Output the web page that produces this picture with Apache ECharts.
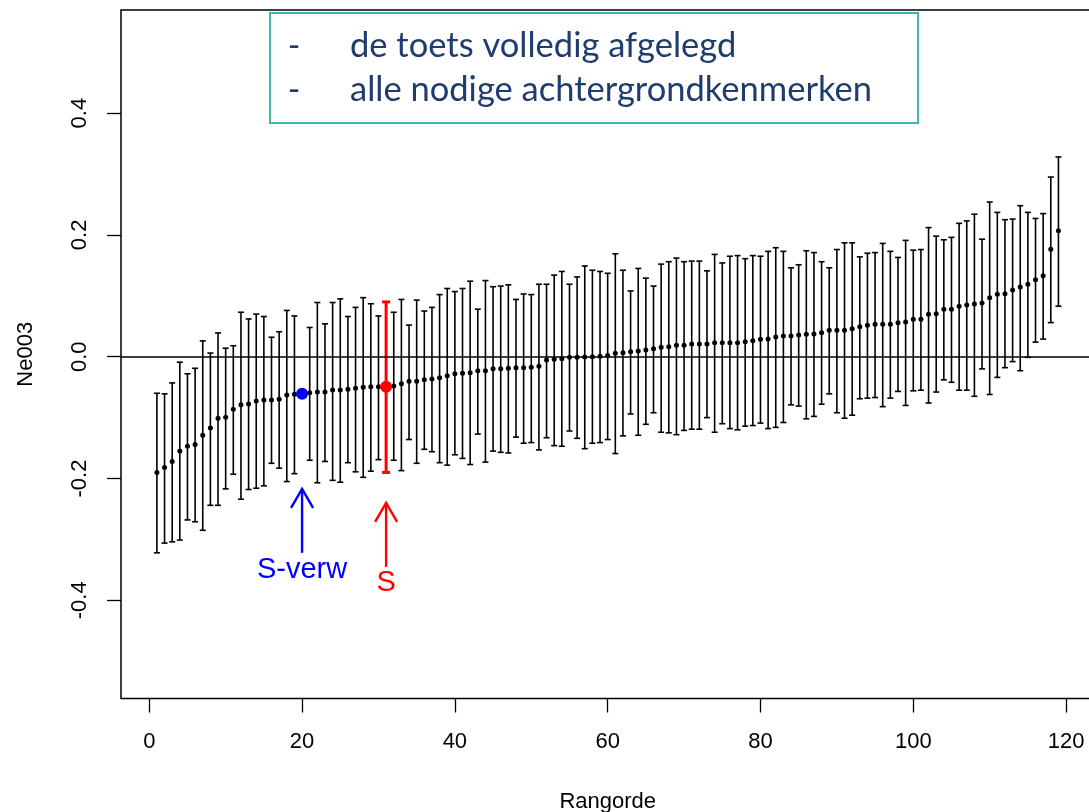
<!DOCTYPE html>
<html>
<head>
<meta charset="utf-8">
<script src="https://cdn.jsdelivr.net/npm/echarts@6/dist/echarts.min.js"></script>
<style>
html, body { margin: 0; padding: 0; background: #fff; }
#chart { width: 1089px; height: 812px; }
</style>
</head>
<body>
<div id="chart"></div>
<script>
// estimates per rank (1..119)
const mid = [
  -0.190, -0.182, -0.172, -0.155, -0.147, -0.144, -0.129, -0.117, -0.101, -0.0995,
  -0.0864, -0.0788, -0.0777, -0.0727, -0.0711, -0.0711, -0.070, -0.063, -0.0618, -0.0607,
  -0.0591, -0.058, -0.058, -0.0547, -0.0547, -0.0536, -0.0519, -0.0503, -0.0492, -0.0492,
  -0.0492, -0.0481, -0.0443, -0.0404, -0.0404, -0.0377, -0.0366, -0.0344, -0.0312, -0.028,
  -0.0273, -0.0262, -0.0229, -0.0229, -0.0197, -0.0197, -0.0191, -0.0180, -0.0180, -0.0175,
  -0.0158, -0.0054, -0.0043, -0.0032, -0.0010, -0.0010, -0.0005, 0.0000, 0.0006, 0.0022,
  0.0055, 0.0066, 0.0083, 0.0094, 0.0110, 0.0132, 0.0154, 0.0165, 0.0187, 0.0187,
  0.0209, 0.0209, 0.0209, 0.0230, 0.0230, 0.0230, 0.0230, 0.0247, 0.0263, 0.0285,
  0.0291, 0.0323, 0.0340, 0.0340, 0.0356, 0.0367, 0.0373, 0.0395, 0.0433, 0.0433,
  0.0433, 0.0460, 0.0493, 0.0515, 0.0532, 0.0532, 0.0532, 0.0559, 0.0570, 0.0614,
  0.0614, 0.0696, 0.0707, 0.0778, 0.0778, 0.0827, 0.0849, 0.0865, 0.0882, 0.0969,
  0.1024, 0.1035, 0.1095, 0.1144, 0.1188, 0.1265, 0.1330, 0.1763, 0.2069
]
const hi = [
  -0.060, -0.061, -0.043, -0.009, -0.028, -0.019, 0.026, 0.006, 0.039, 0.014,
  0.018, 0.073, 0.062, 0.070, 0.066, 0.032, 0.041, 0.076, 0.067, null,
  0.048, 0.089, 0.054, 0.089, 0.095, 0.066, 0.081, 0.097, 0.087, 0.067,
  0.090, 0.073, 0.094, 0.052, 0.093, 0.075, 0.081, 0.102, 0.112, 0.107,
  0.112, 0.124, 0.078, 0.125, 0.115, 0.116, 0.118, 0.094, 0.103, 0.102,
  0.119, 0.119, 0.134, 0.140, 0.119, 0.131, 0.149, 0.142, 0.140, 0.137,
  0.169, 0.142, 0.108, 0.145, 0.129, 0.116, 0.152, 0.156, 0.162, 0.156,
  0.157, 0.157, 0.141, 0.168, 0.154, 0.165, 0.166, 0.161, 0.166, 0.165,
  0.173, 0.179, 0.173, 0.146, 0.151, 0.174, 0.171, 0.156, 0.146, 0.176,
  0.187, 0.187, 0.164, 0.170, 0.171, 0.186, 0.173, 0.163, 0.191, 0.175,
  0.176, 0.212, 0.198, 0.192, 0.196, 0.219, 0.223, 0.234, 0.193, 0.254,
  0.237, 0.225, 0.226, 0.248, 0.237, 0.227, 0.235, 0.295, 0.328
]
const lo = [
  -0.322, -0.306, -0.304, -0.301, -0.268, -0.271, -0.285, -0.244, -0.244, -0.217,
  -0.193, -0.234, -0.218, -0.216, -0.212, -0.175, -0.183, -0.205, -0.192, null,
  -0.170, -0.207, -0.172, -0.203, -0.206, -0.174, -0.189, -0.198, -0.188, -0.169,
  -0.190, -0.170, -0.187, -0.136, -0.175, -0.152, -0.156, -0.174, -0.178, -0.161,
  -0.167, -0.177, -0.127, -0.173, -0.155, -0.157, -0.158, -0.132, -0.142, -0.141,
  -0.153, -0.133, -0.146, -0.147, -0.122, -0.134, -0.151, -0.142, -0.141, -0.136,
  -0.159, -0.130, -0.094, -0.129, -0.111, -0.092, -0.124, -0.125, -0.128, -0.121,
  -0.119, -0.119, -0.100, -0.124, -0.110, -0.118, -0.120, -0.114, -0.113, -0.109,
  -0.118, -0.116, -0.108, -0.079, -0.081, -0.102, -0.098, -0.078, -0.061, -0.092,
  -0.101, -0.096, -0.069, -0.068, -0.067, -0.082, -0.068, -0.057, -0.080, -0.056,
  -0.055, -0.076, -0.058, -0.038, -0.042, -0.055, -0.055, -0.065, -0.020, -0.062,
  -0.034, -0.018, -0.008, -0.023, -0.001, 0.024, 0.029, 0.056, 0.083
]
const xTicks = [0, 20, 40, 60, 80, 100, 120]
const yTicks = [-0.4, -0.2, 0, 0.2, 0.4]
const boxLines = ['de toets volledig afgelegd', 'alle nodige achtergrondkenmerken']

const S_RANK = 31      // school, red
const SVERW_RANK = 20  // expected score, blue

// arrow annotations: [rank, from, to, labelY]
const arrowRows = [[20, -0.322, -0.217, -0.350], [31, -0.345, -0.240, -0.371]]
const arrowLabels = ['S-verw', 'S']
const arrowColors = ['#0000ff', '#ff0000']

const FONT = '"Liberation Sans", Arial, sans-serif'

const bars = []
const dots = []
mid.forEach((m, i) => {
  const rank = i + 1
  if (lo[i] != null) bars.push([rank, lo[i], hi[i]])
  if (rank !== S_RANK && rank !== SVERW_RANK) dots.push([rank, m])
})

function renderBar(params, api) {
  const x = api.value(0)
  const top = api.coord([x, api.value(2)])
  const bot = api.coord([x, api.value(1)])
  const red = x === S_RANK
  const half = red ? 4 : 3
  const style = { stroke: red ? '#ff0000' : '#000', lineWidth: red ? 3 : 1.6 }
  return {
    type: 'group',
    children: [
      { type: 'line', shape: { x1: top[0], y1: top[1], x2: bot[0], y2: bot[1] }, style },
      { type: 'line', shape: { x1: top[0] - half, y1: top[1], x2: top[0] + half, y2: top[1] }, style },
      { type: 'line', shape: { x1: bot[0] - half, y1: bot[1], x2: bot[0] + half, y2: bot[1] }, style }
    ]
  }
}

function renderArrow(params, api) {
  const i = params.dataIndex
  const x = api.value(0)
  const a = api.coord([x, api.value(1)])
  const b = api.coord([x, api.value(2)])
  const t = api.coord([x, api.value(3)])
  const style = { stroke: arrowColors[i], lineWidth: 2.4, fill: null }
  return {
    type: 'group',
    children: [
      { type: 'line', shape: { x1: a[0], y1: a[1], x2: b[0], y2: b[1] }, style },
      { type: 'polyline', shape: { points: [[b[0] - 11, b[1] + 19], [b[0], b[1]], [b[0] + 11, b[1] + 19]] }, style },
      {
        type: 'text', x: t[0], y: t[1],
        style: { text: arrowLabels[i], fill: arrowColors[i], font: '29px ' + FONT, align: 'center', verticalAlign: 'middle' }
      }
    ]
  }
}

const chart = echarts.init(document.getElementById('chart'))
chart.setOption({
  animation: false,
  grid: {
    left: 121, top: 10, width: 973.5, height: 688.5, outerBoundsMode: 'none',
    show: true, borderColor: '#000', borderWidth: 1.5
  },
  xAxis: {
    type: 'value', min: -3.70, max: 123.72,
    name: 'Rangorde', nameLocation: 'middle', nameGap: 92,
    nameTextStyle: { fontFamily: FONT, fontSize: 22, color: '#000' },
    axisLine: { show: false, onZero: false },
    axisTick: { show: true, inside: false, length: 14, customValues: xTicks, lineStyle: { color: '#000', width: 1.3 } },
    axisLabel: { customValues: xTicks, margin: 32, fontFamily: FONT, fontSize: 22, color: '#000' },
    splitLine: { show: false }
  },
  yAxis: {
    type: 'value', min: -0.5612, max: 0.5693,
    name: 'Ne003', nameLocation: 'middle', nameGap: 84, nameRotate: 90,
    nameTextStyle: { fontFamily: FONT, fontSize: 22, color: '#000' },
    axisLine: { show: false, onZero: false },
    axisTick: { show: true, inside: false, length: 14, customValues: yTicks, lineStyle: { color: '#000', width: 1.3 } },
    axisLabel: {
      customValues: yTicks, rotate: 90, margin: 30, fontFamily: FONT, fontSize: 22, color: '#000',
      formatter: v => v.toFixed(1)
    },
    splitLine: { show: false }
  },
  series: [
    {
      type: 'custom', data: bars, renderItem: renderBar, encode: { x: 0, y: [1, 2] }, silent: true, z: 2
    },
    {
      type: 'scatter', data: dots, symbolSize: 5, itemStyle: { color: '#000', opacity: 1 }, silent: true, z: 3,
      markLine: {
        silent: true, symbol: ['none', 'none'], label: { show: false },
        lineStyle: { color: '#000', width: 1.5, type: 'solid' },
        data: [{ yAxis: 0 }]
      }
    },
    {
      type: 'scatter', symbolSize: 12, silent: true, z: 4,
      data: [
        { value: [SVERW_RANK, mid[SVERW_RANK - 1]], itemStyle: { color: '#0000ff', opacity: 1 } },
        { value: [S_RANK, mid[S_RANK - 1]], itemStyle: { color: '#ff0000', opacity: 1 } }
      ]
    },
    {
      type: 'custom', data: arrowRows, renderItem: renderArrow, encode: { x: 0, y: 1 }, silent: true, z: 5
    }
  ],
  graphic: [{
    type: 'group', left: 269, top: 12, z: 100,
    children: [
      { type: 'rect', shape: { x: 0, y: 0, width: 648, height: 110 }, style: { fill: '#fff', stroke: '#40b5ad', lineWidth: 2 } },
      ...boxLines.flatMap((line, i) => [
        { type: 'text', x: 24, y: 33 + i * 44, style: { text: '-', fill: '#1f3c6e', font: '34px Lato', align: 'center', verticalAlign: 'middle' } },
        { type: 'text', x: 80, y: 33 + i * 44, style: { text: line, fill: '#1f3c6e', font: '34.5px Lato', align: 'left', verticalAlign: 'middle' } }
      ])
    ]
  }]
})
</script>
</body>
</html>
